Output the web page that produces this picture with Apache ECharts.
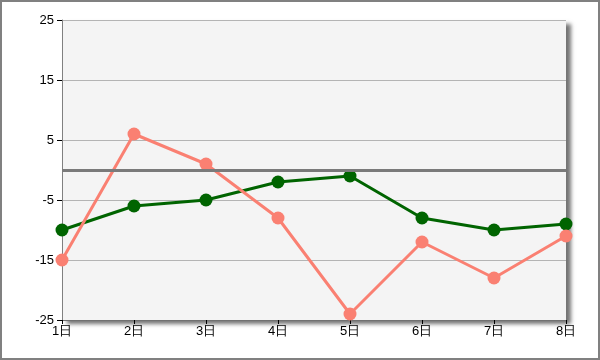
<!DOCTYPE html>
<html><head><meta charset="utf-8">
<script src="https://cdn.jsdelivr.net/npm/echarts@6/dist/echarts.min.js"></script>
<style>html,body{margin:0;padding:0;background:#fff;}#c{width:600px;height:360px;box-sizing:border-box;border:2px solid #808080;}</style>
</head><body><div id="c"></div>
<script>
var categories = ['1日','2日','3日','4日','5日','6日','7日','8日'];
var greenValues = [-10, -6, -5, -2, -1, -8, -10, -9];
var salmonValues = [-15, 6, 1, -8, -24, -12, -18, -11];
var yTickLabels = [-25, -15, -5, 5, 15, 25];

var chart = echarts.init(document.getElementById('c'), null, {renderer:'canvas'});
chart.setOption({
  animation: false,
  grid: {left: 60, right: 32, top: 18, bottom: 38, show: true, backgroundColor: '#f4f4f4', borderWidth: 0,
    shadowColor: 'rgba(0,0,0,0.55)', shadowBlur: 4, shadowOffsetX: 5, shadowOffsetY: 4},
  xAxis: {
    type: 'category', data: categories, boundaryGap: false,
    axisLine: {onZero: false, lineStyle: {color: '#707070', width: 1}},
    axisTick: {show: true, length: 4, inside: false, alignWithLabel: true, lineStyle: {color: '#000'}},
    axisLabel: {color: '#000', fontFamily: 'Liberation Sans, Arial, sans-serif', fontSize: 13, margin: 5},
    splitLine: {show: false}
  },
  yAxis: {
    type: 'value', min: -25, max: 25, interval: 5,
    axisLine: {show: true, lineStyle: {color: '#808080', width: 1}},
    axisTick: {show: true, length: 5, customValues: yTickLabels, lineStyle: {color: '#000'}},
    axisLabel: {customValues: yTickLabels, color: '#000', fontFamily: 'Liberation Sans, Arial, sans-serif', fontSize: 13, margin: 8, verticalAlign: 'middle'},
    splitLine: {show: true, lineStyle: {color: '#b4b4b4', width: 1}}
  },
  series: [
    {type: 'line', data: greenValues, symbol: 'circle', symbolSize: 13,
      lineStyle: {color: '#006400', width: 3}, itemStyle: {color: '#006400'},
      markLine: {silent: true, symbol: 'none', label: {show: false},
        lineStyle: {color: '#7a7a7a', width: 3, type: 'solid'}, data: [{yAxis: 0}]},
      z: 3},
    {type: 'line', data: salmonValues, symbol: 'circle', symbolSize: 13,
      lineStyle: {color: '#fa8072', width: 3}, itemStyle: {color: '#fa8072'}, z: 4}
  ]
});
</script></body></html>
